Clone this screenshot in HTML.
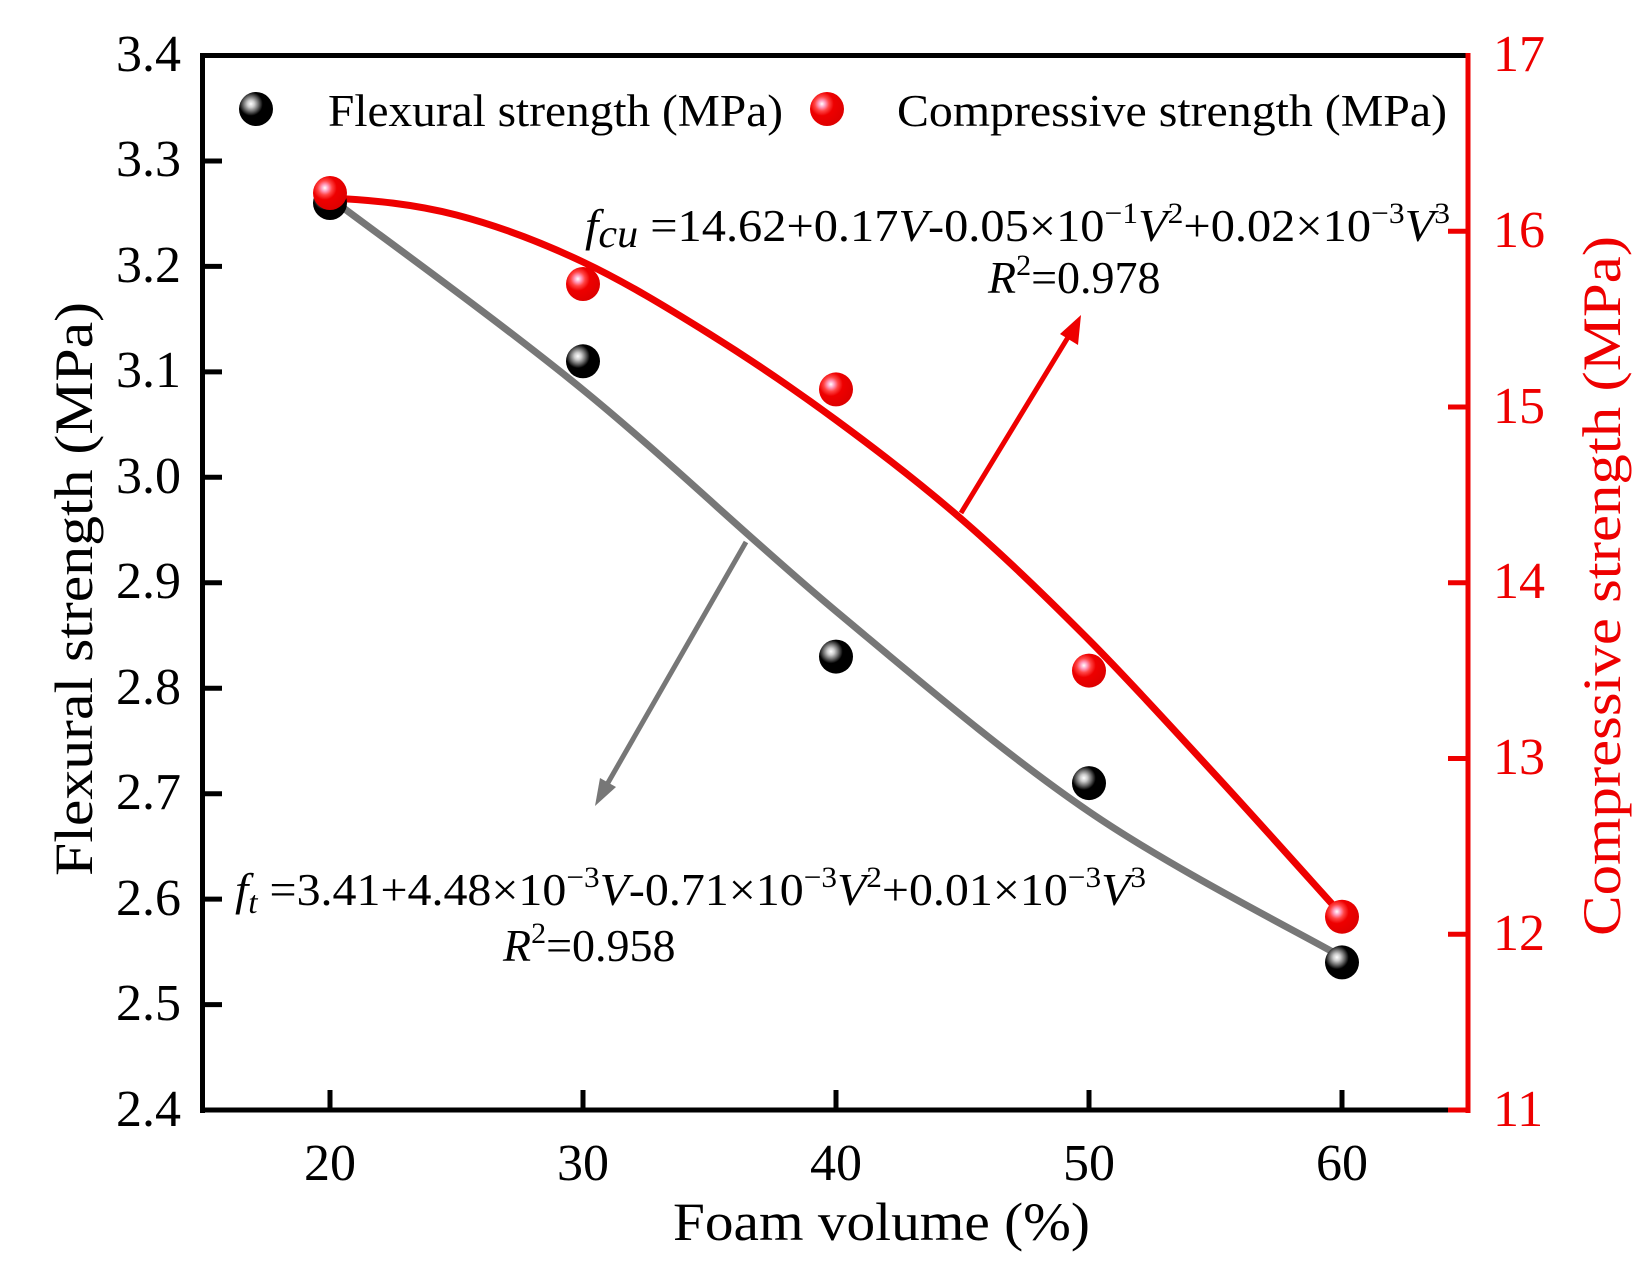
<!DOCTYPE html>
<html><head><meta charset="utf-8"><style>
html,body{margin:0;padding:0;background:#fff;}
svg{display:block;}
text{font-family:"Liberation Serif",serif;}
</style></head><body>
<svg width="1650" height="1269" viewBox="0 0 1650 1269" xmlns="http://www.w3.org/2000/svg">
<defs>
<radialGradient id="gb" cx="0.35" cy="0.35" r="0.7">
<stop offset="0" stop-color="#fff"/><stop offset="0.15" stop-color="#ccc"/><stop offset="0.3" stop-color="#777"/><stop offset="0.5" stop-color="#000"/><stop offset="1" stop-color="#000"/>
</radialGradient>
<radialGradient id="gr" cx="0.35" cy="0.35" r="0.7">
<stop offset="0" stop-color="#fff"/><stop offset="0.15" stop-color="#f9b"/><stop offset="0.3" stop-color="#f44"/><stop offset="0.5" stop-color="#e00"/><stop offset="1" stop-color="#d00"/>
</radialGradient>
</defs>
<g stroke="#000" stroke-width="5" fill="none">
<line x1="202.5" y1="55.5" x2="1468" y2="55.5"/>
<line x1="202.5" y1="53" x2="202.5" y2="1113"/>
<line x1="200" y1="1110" x2="1448" y2="1110"/>
</g>
<g stroke="#e00" stroke-width="5" fill="none">
<line x1="1468" y1="53" x2="1468" y2="1113"/>
<line x1="1448" y1="1110" x2="1470" y2="1110"/>
</g>
<g stroke="#000" stroke-width="5">
<line x1="202" y1="161" x2="222" y2="161"/><line x1="202" y1="266.4" x2="222" y2="266.4"/>
<line x1="202" y1="371.9" x2="222" y2="371.9"/><line x1="202" y1="477.3" x2="222" y2="477.3"/>
<line x1="202" y1="582.8" x2="222" y2="582.8"/><line x1="202" y1="688.2" x2="222" y2="688.2"/>
<line x1="202" y1="793.7" x2="222" y2="793.7"/><line x1="202" y1="899.1" x2="222" y2="899.1"/>
<line x1="202" y1="1004.6" x2="222" y2="1004.6"/>
<line x1="330" y1="1110" x2="330" y2="1090"/><line x1="583" y1="1110" x2="583" y2="1090"/>
<line x1="836" y1="1110" x2="836" y2="1090"/><line x1="1089" y1="1110" x2="1089" y2="1090"/>
<line x1="1342" y1="1110" x2="1342" y2="1090"/>
</g>
<g stroke="#e00" stroke-width="5">
<line x1="1468" y1="231.3" x2="1448" y2="231.3"/><line x1="1468" y1="407" x2="1448" y2="407"/>
<line x1="1468" y1="582.8" x2="1448" y2="582.8"/><line x1="1468" y1="758.5" x2="1448" y2="758.5"/>
<line x1="1468" y1="934.3" x2="1448" y2="934.3"/>
</g>
<g font-size="52" text-anchor="end" fill="#000">
<text x="181" y="71">3.4</text><text x="181" y="176">3.3</text><text x="181" y="282">3.2</text>
<text x="181" y="387">3.1</text><text x="181" y="493">3.0</text><text x="181" y="598">2.9</text>
<text x="181" y="704">2.8</text><text x="181" y="809">2.7</text><text x="181" y="915">2.6</text>
<text x="181" y="1020">2.5</text><text x="181" y="1126">2.4</text>
</g>
<g font-size="52" text-anchor="middle" fill="#000">
<text x="330" y="1180">20</text><text x="583" y="1180">30</text><text x="836" y="1180">40</text>
<text x="1089" y="1180">50</text><text x="1342" y="1180">60</text>
</g>
<g font-size="52" fill="#e00">
<text x="1493" y="71">17</text><text x="1493" y="247">16</text><text x="1493" y="423">15</text>
<text x="1493" y="598">14</text><text x="1493" y="774">13</text><text x="1493" y="950">12</text>
<text x="1493" y="1126">11</text>
</g>
<text x="673" y="1240" font-size="54" textLength="417" lengthAdjust="spacingAndGlyphs">Foam volume (%)</text>
<text transform="translate(92,876) rotate(-90)" font-size="54" textLength="574" lengthAdjust="spacingAndGlyphs">Flexural strength (MPa)</text>
<text transform="translate(1620,936) rotate(-90)" font-size="54" textLength="700" lengthAdjust="spacingAndGlyphs" fill="#e00">Compressive strength (MPa)</text>
<path d="M330,197.9 C372.2,229.9 498.7,320.9 583,389.8 C667.3,458.7 751.7,540.9 836,611.2 C920.3,681.5 1004.7,754 1089,811.6 C1173.3,869.3 1299.8,932.9 1342,957.1" fill="none" stroke="#777" stroke-width="7"/>
<path d="M330,198 C372,200 414,204 456.5,215 C498.7,226 540.8,242 583,262 C625.2,282 667.3,307.7 709.5,334 C751.7,360.3 793.8,389 836,420 C878.2,451 920.3,483.3 962.5,520 C1004.7,556.7 1046.8,597.5 1089,640 C1131.2,682.5 1173.3,729.2 1215.5,775 C1257.7,820.8 1320.9,891.7 1342,915" fill="none" stroke="#e00" stroke-width="7"/>
<line x1="961" y1="513" x2="1070" y2="334" stroke="#e00" stroke-width="5"/>
<polygon points="1081,315 1060,334 1078,345" fill="#e00"/>
<line x1="746" y1="542" x2="605" y2="788" stroke="#777" stroke-width="5"/>
<polygon points="595,806 600,778 616,787" fill="#777"/>
<g fill="url(#gb)">
<circle cx="330" cy="203" r="17"/><circle cx="583" cy="361.3" r="17"/><circle cx="836" cy="656.6" r="17"/>
<circle cx="1089" cy="783.1" r="17"/><circle cx="1342" cy="962.4" r="17"/>
<circle cx="256" cy="109" r="17"/>
</g>
<g fill="url(#gr)">
<circle cx="330" cy="193" r="17"/><circle cx="583" cy="284" r="17"/><circle cx="836" cy="389.4" r="17"/>
<circle cx="1089" cy="670.6" r="17"/><circle cx="1342" cy="916.7" r="17"/>
<circle cx="827" cy="109" r="17"/>
</g>
<text x="328" y="126" font-size="45" textLength="455" lengthAdjust="spacingAndGlyphs">Flexural strength (MPa)</text>
<text x="897" y="126" font-size="45" textLength="550" lengthAdjust="spacingAndGlyphs">Compressive strength (MPa)</text>
<text x="585" y="241" font-size="46" textLength="865" lengthAdjust="spacingAndGlyphs"><tspan font-style="italic">f<tspan font-size="40" dy="6">cu</tspan></tspan><tspan dy="-6"> =14.62+0.17</tspan><tspan font-style="italic">V</tspan>-0.05×10<tspan font-size="30" dy="-18">−1</tspan><tspan font-style="italic" dy="18">V</tspan><tspan font-size="30" dy="-18">2</tspan><tspan dy="18">+0.02×10</tspan><tspan font-size="30" dy="-18">−3</tspan><tspan font-style="italic" dy="18">V</tspan><tspan font-size="30" dy="-18">3</tspan></text>
<text x="988" y="293" font-size="46"><tspan font-style="italic">R</tspan><tspan font-size="30" dy="-18">2</tspan><tspan dy="18">=0.978</tspan></text>
<text x="235" y="905" font-size="46" textLength="911" lengthAdjust="spacingAndGlyphs"><tspan font-style="italic">f<tspan font-size="32" dy="8">t</tspan></tspan><tspan dy="-8"> =3.41+4.48×10</tspan><tspan font-size="30" dy="-18">−3</tspan><tspan font-style="italic" dy="18">V</tspan>-0.71×10<tspan font-size="30" dy="-18">−3</tspan><tspan font-style="italic" dy="18">V</tspan><tspan font-size="30" dy="-18">2</tspan><tspan dy="18">+0.01×10</tspan><tspan font-size="30" dy="-18">−3</tspan><tspan font-style="italic" dy="18">V</tspan><tspan font-size="30" dy="-18">3</tspan></text>
<text x="503" y="961" font-size="46"><tspan font-style="italic">R</tspan><tspan font-size="30" dy="-18">2</tspan><tspan dy="18">=0.958</tspan></text>
</svg>
</body></html>
